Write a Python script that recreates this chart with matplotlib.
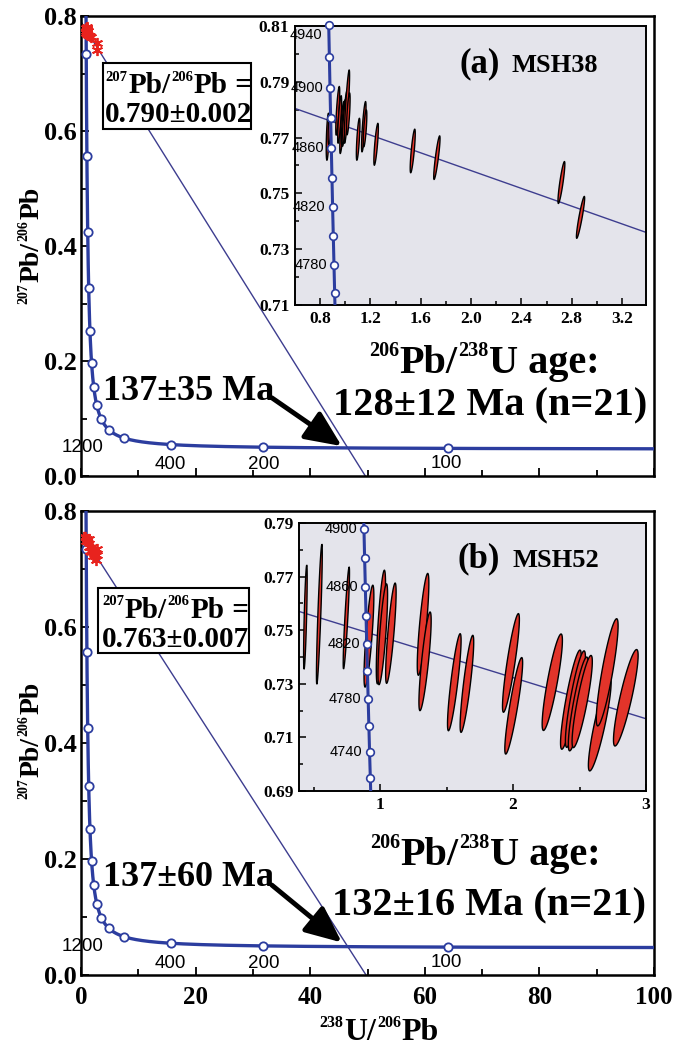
import numpy as np
import matplotlib.pyplot as plt
from matplotlib.patches import Rectangle
from matplotlib.ticker import MultipleLocator, FixedLocator, FormatStrFormatter

plt.rcParams.update({'font.family': 'Liberation Serif',
                     'font.weight': 'bold',
                     'axes.linewidth': 1.8})

# decay constants (1/yr) and present-day 238U/235U
L238 = 1.55125e-10
L235 = 9.8485e-10
U_RATIO = 137.88

CONC_COLOR = '#2c3d9f'
DISC_COLOR = '#3d3d8f'
STAR_COLOR = '#e8231e'
ELL_COLOR = '#e2342a'
INSET_BG = '#e4e4eb'

SUP_SCALE = 0.5
SUP_RISE = 0.42

PB76 = [('207', True), ('Pb/', False), ('206', True), ('Pb', False)]
PB68 = [('206', True), ('Pb/', False), ('238', True), ('U age:', False)]
U8PB6 = [('238', True), ('U/', False), ('206', True), ('Pb', False)]

# concordia ages (Ma) marked on the big plots and their labels
main_marker_ages = [4800, 4400, 4000, 3600, 3200, 2800, 2400, 2000, 1600,
                    1200, 800, 400, 200, 100]
main_label_ages = ['1200', '400', '200', '100']
main_label_x = [0.2, 15.5, 31.9, 63.7]
main_label_y = [0.049, 0.020, 0.020, 0.022]

# sample MSH38
a_intercept = 0.790
a_intercept_err = 0.002
a_lower_age = 137
a_lower_err = 35
a_pb_age = 128
a_pb_err = 12
a_n = 21
a_x = [0.860, 0.875, 0.940, 0.955, 0.974, 0.985, 0.996, 1.013, 1.024,
       1.102, 1.147, 1.157, 1.245, 1.536, 1.728, 2.718, 2.870]
a_y = [0.7703, 0.7735, 0.7796, 0.7765, 0.7736, 0.7755, 0.7769, 0.7811, 0.7785,
       0.7694, 0.7739, 0.7733, 0.7676, 0.7652, 0.7628, 0.7539, 0.7414]
a_sy = [0.0084, 0.0060, 0.0087, 0.0085, 0.0093, 0.0080, 0.0100, 0.0131, 0.0075,
        0.0075, 0.0090, 0.0066, 0.0075, 0.0078, 0.0078, 0.0075, 0.0075]
a_lean = [0.006, 0.006, 0.012, 0.012, 0.014, 0.013, 0.018, 0.018, 0.010,
          0.010, 0.014, 0.010, 0.014, 0.016, 0.022, 0.024, 0.030]
a_thick = [0.010, 0.010, 0.010, 0.010, 0.011, 0.010, 0.011, 0.011, 0.010,
           0.010, 0.011, 0.010, 0.011, 0.012, 0.012, 0.013, 0.013]
a_inset_ages = list(range(4760, 4941, 20))
a_inset_labels = [4940, 4900, 4860, 4820, 4780]
a_inset_yticks = [0.71, 0.73, 0.75, 0.77, 0.79, 0.81]

# sample MSH52
b_intercept = 0.763
b_intercept_err = 0.007
b_lower_age = 137
b_lower_err = 60
b_pb_age = 132
b_pb_err = 16
b_n = 21
b_x = [0.438, 0.543, 0.746, 0.916, 1.006, 1.020, 1.081, 1.323, 1.338, 1.558,
       1.653, 1.984, 2.005, 2.295, 2.435, 2.469, 2.490, 2.520, 2.652, 2.708, 2.848]
b_y = [0.7549, 0.7560, 0.7546, 0.7478, 0.7512, 0.7485, 0.7489, 0.7522, 0.7384, 0.7306,
       0.7300, 0.7378, 0.7218, 0.7306, 0.7241, 0.7243, 0.7225, 0.7234, 0.7150, 0.7343, 0.7248]
b_sy = [0.0194, 0.0261, 0.0190, 0.0190, 0.0212, 0.0188, 0.0187, 0.0190, 0.0184, 0.0181,
        0.0181, 0.0184, 0.0180, 0.0180, 0.0185, 0.0180, 0.0175, 0.0172, 0.0175, 0.0200, 0.0180]
b_lean = [0.010, 0.019, 0.021, 0.029, 0.026, 0.028, 0.032, 0.035, 0.038, 0.044,
          0.044, 0.056, 0.060, 0.066, 0.068, 0.065, 0.064, 0.066, 0.075, 0.071, 0.081]
b_thick = [0.009, 0.011, 0.011, 0.023, 0.023, 0.023, 0.023, 0.026, 0.026, 0.026,
           0.026, 0.030, 0.030, 0.038, 0.038, 0.038, 0.038, 0.038, 0.041, 0.041, 0.045]
b_inset_ages = list(range(4720, 4901, 20))
b_inset_labels = [4900, 4860, 4820, 4780, 4740]
b_inset_yticks = [0.69, 0.71, 0.73, 0.75, 0.77, 0.79]

rich_items = []


def rich_text(ax, xy, parts, size, coords='data', rotation=0, zorder=6):
    # chain of text pieces with small raised isotope numbers, centred later
    anchor = ax.annotate('', xy, xycoords=coords, xytext=(0, 0),
                         textcoords='offset pixels', annotation_clip=False)
    prev = anchor
    pieces = []
    for s, sup in parts:
        fs = size * SUP_SCALE if sup else size
        rise = size * SUP_RISE if sup else 0.0
        if rotation == 0:
            kw = dict(xy=(1, 0), xycoords=(prev, anchor), xytext=(0.5, rise))
        else:
            kw = dict(xy=(0, 1), xycoords=(anchor, prev), xytext=(-rise, 0.8))
        t = ax.annotate(s, textcoords='offset points', fontsize=fs, ha='left',
                        va='baseline', rotation=rotation, rotation_mode='anchor',
                        zorder=zorder, annotation_clip=False, **kw)
        pieces.append(t)
        prev = t
    rich_items.append((anchor, pieces, rotation))


def center_rich_text(fig):
    fig.canvas.draw()
    r = fig.canvas.get_renderer()
    for anchor, pieces, rotation in rich_items:
        a = anchor.get_window_extent(r)
        last = pieces[-1].get_window_extent(r)
        if rotation == 0:
            anchor.xyann = (-(last.x1 - a.x0) / 2, 0)
        else:
            anchor.xyann = (0, -(last.y1 - a.y0) / 2)


def concordia(t_ma):
    t = np.asarray(t_ma, dtype=float) * 1e6
    e238 = np.expm1(L238 * t)
    e235 = np.expm1(L235 * t)
    return 1.0 / e238, e235 / (U_RATIO * e238)


def discordia(x, y0, age):
    xl, yl = concordia(age)
    return y0 + (yl - y0) / xl * np.asarray(x)


def draw_ellipses(ax, xs, ys, sys_, leans, thicks):
    t = np.linspace(0, 2 * np.pi, 80)
    for xc, yc, sy, lean, th in zip(xs, ys, sys_, leans, thicks):
        ex = xc + lean * np.sin(t) + th * np.cos(t)
        ey = yc + sy * np.sin(t)
        ax.fill(ex, ey, facecolor=ELL_COLOR, edgecolor='black', lw=1.0, zorder=4)


def main_panel(ax, y0, age, age_err, y0_err, xs, ys, pos, show_xlabels):
    ages = np.geomspace(55, 5200, 3000)
    cx, cy = concordia(ages)
    ax.plot(cx, cy, color=CONC_COLOR, lw=2.4, zorder=3)
    mx, my = concordia(main_marker_ages)
    ax.plot(mx, my, 'o', ms=6, mfc='white', mec=CONC_COLOR, mew=1.3, zorder=4)
    for lab, lx, ly in zip(main_label_ages, main_label_x, main_label_y):
        ax.text(lx, ly, lab, family='Liberation Sans', fontweight='normal',
                fontsize=13.5, ha='center', va='center', zorder=5)

    dx = np.array([0, 60])
    ax.plot(dx, discordia(dx, y0, age), color=DISC_COLOR, lw=1.0, zorder=2)
    ax.plot(xs, ys, ls='none', marker=(6, 2, 0), ms=8, mew=1.3,
            color=STAR_COLOR, zorder=5)

    bx0, by0, bx1, by1 = pos['box']
    ax.add_patch(Rectangle((bx0, by0), bx1 - bx0, by1 - by0, fc='white',
                           ec='black', lw=1.5, zorder=6))
    rich_text(ax, pos['line1'], PB76 + [(' =', False)], 21, zorder=7)
    ax.text(pos['line2'][0], pos['line2'][1], '%.3f\u00b1%.3f' % (y0, y0_err),
            fontsize=21, ha='center', va='baseline', zorder=7)

    ax.text(18.8, pos['lower'], '%d\u00b1%d Ma' % (age, age_err),
            fontsize=26, ha='center', va='baseline', zorder=6)
    ax.annotate('', xy=pos['head'], xytext=pos['tail'], zorder=6,
                arrowprops=dict(arrowstyle='-|>,head_length=1.0,head_width=0.45',
                                lw=3.5, color='black', mutation_scale=22,
                                shrinkA=0, shrinkB=0))

    ax.set_xlim(0, 100)
    ax.set_ylim(0, 0.8)
    ax.xaxis.set_major_locator(MultipleLocator(20))
    ax.xaxis.set_minor_locator(MultipleLocator(10))
    ax.yaxis.set_major_locator(MultipleLocator(0.2))
    ax.yaxis.set_minor_locator(MultipleLocator(0.1))
    ax.yaxis.set_major_formatter(FormatStrFormatter('%.1f'))
    ax.tick_params(which='both', direction='in', width=1.3, top=False, right=False)
    ax.tick_params(which='major', length=6, labelsize=19, pad=3)
    ax.tick_params(which='minor', length=4)
    ax.tick_params(axis='x', which='major', labelsize=18, pad=8)
    if not show_xlabels:
        ax.tick_params(axis='x', labelbottom=False)


def inset_panel(ax, y0, age, xs, ys, sys_, leans, thicks, xlim, ylim, yticks,
                ages, label_ages, xmaj, xmin, xfmt, title, sample, title_x):
    ax.set_facecolor(INSET_BG)
    for s in ax.spines.values():
        s.set_linewidth(1.4)
    lx = np.array(xlim)
    ax.plot(lx, discordia(lx, y0, age), color=DISC_COLOR, lw=1.0, zorder=2)
    draw_ellipses(ax, xs, ys, sys_, leans, thicks)

    ca = np.linspace(4600, 5050, 500)
    cx, cy = concordia(ca)
    ax.plot(cx, cy, color=CONC_COLOR, lw=2.2, zorder=5)
    mx, my = concordia(ages)
    ax.plot(mx, my, 'o', ms=5.5, mfc='white', mec=CONC_COLOR, mew=1.2,
            zorder=6, clip_on=False)
    for a in label_ages:
        px, py = concordia(a)
        dy = -7 if py > ylim[1] - 0.002 else 0
        ax.annotate(str(a), (px, py), xytext=(-5, dy), textcoords='offset points',
                    family='Liberation Sans', fontweight='normal', fontsize=10.5,
                    ha='right', va='center', zorder=6, annotation_clip=False)

    ax.text(title_x[0], 0.835, title, transform=ax.transAxes, fontsize=25,
            ha='left', va='baseline')
    ax.text(title_x[1], 0.835, sample, transform=ax.transAxes, fontsize=19,
            ha='left', va='baseline')

    ax.set_xlim(*xlim)
    ax.set_ylim(*ylim)
    ax.xaxis.set_major_locator(MultipleLocator(xmaj))
    ax.xaxis.set_minor_locator(MultipleLocator(xmin))
    ax.xaxis.set_major_formatter(FormatStrFormatter(xfmt))
    ax.yaxis.set_major_locator(FixedLocator(yticks))
    ax.yaxis.set_minor_locator(MultipleLocator(0.01))
    ax.yaxis.set_major_formatter(FormatStrFormatter('%.2f'))
    ax.tick_params(which='both', direction='in', width=1.1)
    ax.tick_params(which='major', length=5, labelsize=12.5, pad=4)
    ax.tick_params(which='minor', length=3)


fig = plt.figure(figsize=(6.73, 10.48), dpi=100)

ax_a = fig.add_axes([0.1204, 0.5458, 0.8514, 0.4389])
ax_b = fig.add_axes([0.1204, 0.0697, 0.8514, 0.4427])

main_panel(ax_a, a_intercept, a_lower_age, a_lower_err, a_intercept_err, a_x, a_y,
           {'box': (3.84, 0.603, 29.67, 0.718), 'line1': (17.0, 0.666),
            'line2': (17.1, 0.616), 'lower': 0.132,
            'tail': (33.3, 0.136), 'head': (45.5, 0.052)}, False)
main_panel(ax_b, b_intercept, b_lower_age, b_lower_err, b_intercept_err, b_x, b_y,
           {'box': (2.97, 0.555, 29.3, 0.667), 'line1': (16.4, 0.616),
            'line2': (16.5, 0.566), 'lower': 0.153,
            'tail': (33.3, 0.155), 'head': (45.5, 0.056)}, True)

rich_text(ax_a, (70.3, 0.179), PB68, 29)
ax_a.text(71.4, 0.106, '%d\u00b1%d Ma (n=%d)' % (a_pb_age, a_pb_err, a_n),
          fontsize=29, ha='center', va='baseline', zorder=6)
rich_text(ax_b, (70.5, 0.190), PB68, 29)
ax_b.text(71.2, 0.103, '%d\u00b1%d Ma (n=%d)' % (b_pb_age, b_pb_err, b_n),
          fontsize=29, ha='center', va='baseline', zorder=6)

in_a = fig.add_axes([0.4383, 0.7090, 0.5215, 0.2662])
in_b = fig.add_axes([0.4443, 0.2452, 0.5156, 0.2557])

inset_panel(in_a, a_intercept, a_lower_age, a_x, a_y, a_sy, a_lean, a_thick,
            (0.6, 3.39), (0.71, 0.81), a_inset_yticks, a_inset_ages, a_inset_labels,
            0.4, 0.2, '%.1f', '(a)', 'MSH38', (0.470, 0.618))
inset_panel(in_b, b_intercept, b_lower_age, b_x, b_y, b_sy, b_lean, b_thick,
            (0.39, 3.0), (0.69, 0.79), b_inset_yticks, b_inset_ages, b_inset_labels,
            1.0, 0.5, '%d', '(b)', 'MSH52', (0.458, 0.614))

rich_text(ax_a, (39 / 673, 1 - 246 / 1048), PB76, 20,
          coords='figure fraction', rotation=90)
rich_text(ax_b, (39 / 673, 1 - 741 / 1048), PB76, 20,
          coords='figure fraction', rotation=90)
rich_text(ax_b, (379 / 673, 8 / 1048), U8PB6, 23, coords='figure fraction')

center_rich_text(fig)
fig.savefig('out.png', dpi=100)
